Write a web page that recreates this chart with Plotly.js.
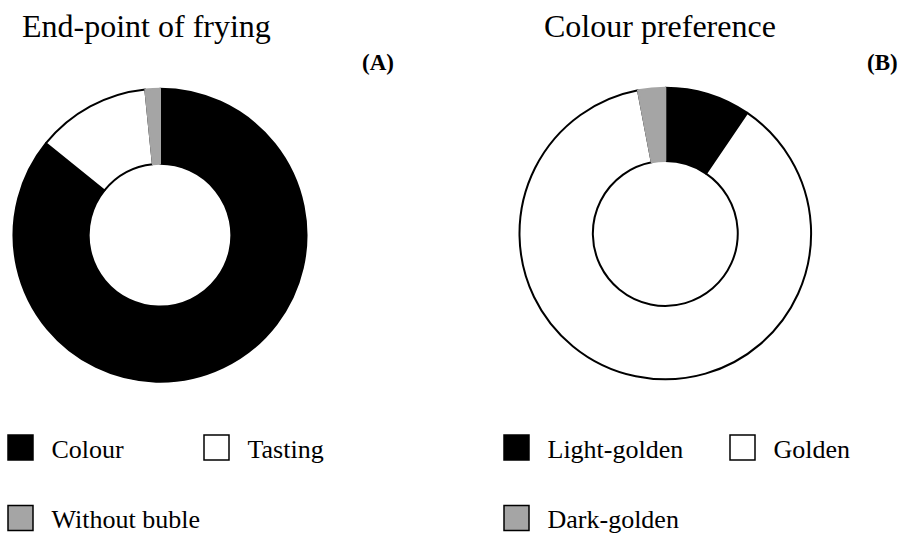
<!DOCTYPE html>
<html><head><meta charset="utf-8">
<script src="https://cdn.plot.ly/plotly-3.0.1.min.js"></script>
<style>html,body{margin:0;padding:0;background:#fff}#chart{width:906px;height:534px}</style>
</head><body><div id="chart"></div>
<script>
// ---- data ----
const fryingLabels = ['Colour', 'Tasting', 'Without buble'];
const fryingValues = [85.8, 12.6, 1.6];
const colourLabels = ['Light-golden', 'Golden', 'Dark-golden'];
const colourValues = [9.5, 87.5, 3.0];
const panelTitles = ['End-point of frying', 'Colour preference'];
const panelTags = ['(A)', '(B)'];

// ---- styles ----
const serif = '"Liberation Serif", "Times New Roman", serif';
const sliceFill = ['#000000', '#ffffff', '#a5a5a5'];
const sliceLine = ['#000000', '#000000', '#a5a5a5'];
// trailing line break gives each legend row the tall spacing of the original
const legendText = s => s + '<br>';

const W = 906, H = 534;
function dom(cx, cy, r) {
  return { x: [(cx - r) / W, (cx + r) / W], y: [1 - (cy + r) / H, 1 - (cy - r) / H] };
}

const traces = [
  {
    type: 'pie', labels: fryingLabels.map(legendText), values: fryingValues,
    sort: false, direction: 'clockwise', rotation: 0, hole: 0.487,
    marker: { colors: sliceFill, line: { color: sliceLine, width: 2 } },
    textinfo: 'none', hoverinfo: 'label+percent',
    domain: dom(160, 235.2, 146.5), legend: 'legend'
  },
  {
    type: 'pie', labels: colourLabels.map(legendText), values: colourValues,
    sort: false, direction: 'clockwise', rotation: 0, hole: 0.497,
    marker: { colors: sliceFill, line: { color: sliceLine, width: 2 } },
    textinfo: 'none', hoverinfo: 'label+percent',
    domain: dom(665.3, 233.5, 145.8), legend: 'legend2'
  }
];

const legendBase = {
  orientation: 'h', yanchor: 'top', y: 0.2058,
  itemwidth: 52, entrywidthmode: 'pixels', valign: 'top',
  font: { family: serif, size: 26, color: '#000' },
  bgcolor: 'rgba(0,0,0,0)', borderwidth: 0, traceorder: 'normal'
};

const layout = {
  width: W, height: H,
  margin: { l: 0, r: 0, t: 0, b: 0, autoexpand: false },
  paper_bgcolor: '#ffffff', plot_bgcolor: '#ffffff',
  font: { family: serif, color: '#000' },
  showlegend: true,
  legend: Object.assign({}, legendBase, { x: -10.5 / W, xanchor: 'left', entrywidth: 129 }),
  legend2: Object.assign({}, legendBase, { x: (485.5 + 452) / W, xanchor: 'right', entrywidth: 159 }),
  annotations: [
    { text: panelTitles[0], x: 146.5 / W, y: 1 - 26.2 / H, xref: 'paper', yref: 'paper',
      xanchor: 'center', yanchor: 'middle', showarrow: false, font: { family: serif, size: 32, color: '#000' } },
    { text: panelTitles[1], x: 659.5 / W, y: 1 - 26.2 / H, xref: 'paper', yref: 'paper',
      xanchor: 'center', yanchor: 'middle', showarrow: false, font: { family: serif, size: 32, color: '#000' } },
    { text: '<b>' + panelTags[0] + '</b>', x: 377.5 / W, y: 1 - 63 / H, xref: 'paper', yref: 'paper',
      xanchor: 'center', yanchor: 'middle', showarrow: false, font: { family: serif, size: 23, color: '#000' } },
    { text: '<b>' + panelTags[1] + '</b>', x: 882.5 / W, y: 1 - 63 / H, xref: 'paper', yref: 'paper',
      xanchor: 'center', yanchor: 'middle', showarrow: false, font: { family: serif, size: 23, color: '#000' } }
  ]
};

// the original legend uses larger (25px) outlined squares than Plotly's default 12px
function enlargeLegendSquares() {
  document.querySelectorAll('#chart path.legendpie').forEach(p => {
    p.setAttribute('d', 'M12.5,12.5H-12.5V-12.5H12.5Z');
    p.style.stroke = '#000';
    p.style.strokeWidth = '1.5px';
  });
}

Plotly.newPlot('chart', traces, layout, { displayModeBar: false }).then(gd => {
  enlargeLegendSquares();
  gd.on('plotly_afterplot', enlargeLegendSquares);
});
</script>
</body></html>
